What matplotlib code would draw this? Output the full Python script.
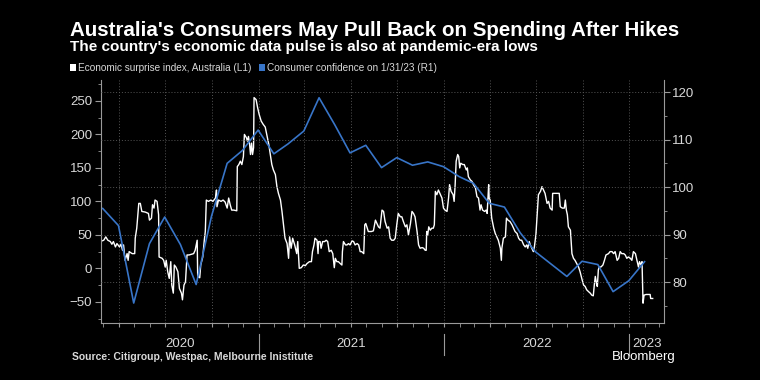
import matplotlib
matplotlib.use("Agg")
import matplotlib.pyplot as plt
import matplotlib.dates as mdates
import matplotlib.transforms as mtransforms
from matplotlib.patches import Patch
from matplotlib.ticker import MultipleLocator
import pandas as pd

# Citi economic surprise index, Australia (days since 2020-01-01, value)
START = pd.Timestamp("2020-01-01")
esi_day = [
    54, 61, 65, 69, 74, 77, 80, 84, 87, 92, 95, 98, 100, 103, 107, 109, 111, 117, 122, 123,
    126, 130, 133, 136, 143, 149, 151, 155, 157, 160, 162, 166, 169, 170, 176, 179, 182, 184,
    187, 190, 193, 195, 198, 200, 203, 207, 210, 214, 216, 219, 222, 225, 229,
    238, 241, 245, 246, 250, 252, 256, 259, 261, 263, 267, 272, 276, 281, 283, 284, 287, 292,
    296, 300, 304, 307, 310, 313, 317, 323, 324, 327, 330, 333, 336, 338, 342, 344, 346, 348,
    350, 352, 354, 356, 357, 361, 364, 367, 371, 375, 379, 382, 386, 389, 392, 395, 399, 402,
    405, 409, 412, 415, 418, 422,
    425, 427, 430, 433, 437, 440, 441, 443, 446, 450, 454, 458, 461, 466, 470, 472, 475, 477,
    481, 483, 484, 487, 489, 492, 496, 499, 502, 505, 509, 512, 513, 515, 517, 520, 523, 527,
    530, 531, 533, 537, 540, 543, 546, 550, 553, 556, 560, 563, 566, 569, 573, 575, 577, 582,
    588, 592, 596, 599, 602, 605, 609,
    612, 615, 619, 622, 625, 628, 632, 635, 638, 641, 645, 648, 651, 655, 658, 661, 665, 668,
    671, 674, 678, 681, 684, 688, 691, 694, 696, 697, 699, 701, 704, 707, 710, 712, 714, 717,
    720, 724, 727, 730, 733, 737, 740, 742, 745, 749, 751, 753, 755, 758, 760, 762, 764, 768,
    771, 775, 777, 779, 783, 786, 789, 793, 796, 799,
    802, 804, 807, 811, 814, 816, 819, 820, 822, 825, 829, 832, 835, 838, 842, 844, 845, 848,
    852, 854, 857, 861, 865, 868, 871, 875, 878, 881, 884, 888, 891, 894, 896, 899, 901, 904,
    907, 909, 912, 914, 917, 921, 924, 927, 930, 934, 937, 940, 944, 945, 950, 955, 958, 960,
    964, 968, 970, 972, 974, 976, 980, 983, 986, 989,
    996, 999, 1003, 1006, 1009, 1012, 1016, 1019, 1022, 1025, 1027, 1029, 1032, 1033, 1035,
    1037, 1040, 1044, 1047, 1050, 1055, 1058, 1062, 1065, 1068, 1072, 1075, 1078, 1081, 1085,
    1088, 1091, 1094, 1098, 1101, 1104, 1108, 1111, 1114, 1116, 1119, 1121, 1123, 1125, 1129,
    1137, 1138, 1142,
]
esi_val = [
    40, 42, 47, 42, 40, 36, 40, 32, 37, 32, 36, 27, 35, 12, 22, 12, 25, 22, 22, 45,
    60, 97, 97, 85, 84, 82, 72, 75, 95, 90, 102, 100, 80, 17, 15, 12, 2, 12,
    -5, -15, 10, -25, -37, 5, 2, -5, -30, -37, -47, -25, -20, 20, 20,
    22, 27, 42, -12, -14, 5, 17, 42, 55, 102, 100, 102, 100, 105, 117, 92, 102, 100,
    102, 99, 90, 105, 95, 87, 87, 86, 152, 155, 160, 155, 167, 200, 195, 190, 197, 187,
    170, 187, 170, 180, 255, 252, 240, 230, 220, 215, 211, 200, 185, 170, 155, 147, 140, 122,
    112, 102, 85, 65, 45, 37,
    15, 47, 30, 45, 35, 25, 22, 40, 0, 1, 5, 4, 7, 10, 10, 25, 35, 45,
    42, 22, 40, 40, 30, 40, 40, 42, 40, 25, 27, 22, 15, 1, 15, 10, 10, 7,
    5, 25, 40, 35, 35, 37, 35, 41, 40, 35, 37, 35, 25, 25, 22, 65, 67, 55,
    55, 56, 72, 67, 62, 60, 87,
    85, 70, 60, 62, 45, 42, 42, 45, 65, 82, 77, 77, 70, 62, 65, 50, 67, 85,
    82, 77, 55, 35, 30, 31, 30, 27, 27, 55, 50, 62, 57, 60, 60, 65, 115, 110,
    117, 110, 105, 90, 87, 85, 105, 125, 115, 110, 100, 125, 160, 170, 167, 150, 157, 155,
    155, 147, 150, 137, 132, 130, 125, 120, 107, 105,
    87, 95, 87, 85, 87, 82, 125, 105, 102, 75, 60, 52, 47, 42, 30, 12, 30, 45,
    47, 75, 72, 70, 65, 60, 55, 52, 45, 42, 42, 35, 32, 35, 30, 40, 35, 30,
    25, 32, 50, 75, 110, 115, 122, 117, 112, 97, 100, 90, 87, 112, 112, 112, 112, 92,
    90, 90, 102, 87, 80, 62, 57, 22, 15, 12,
    2, -5, -17, -25, -27, -32, -35, -37, -40, -41, -25, -12, -25, -27, -2,
    2, 2, 5, 12, 20, 22, 25, 25, 22, 25, 12, 15, 25, 22, 22,
    20, 15, 17, 15, 12, 25, 22, 12, 2, 10, 5, 10, -52, -40, -39,
    -39, -45, -45,
]

# Westpac-Melbourne Institute consumer sentiment, plotted at month end
cc_month = pd.date_range("2020-02-29", "2023-01-31", freq="ME")
cc_val = [
    95.5, 91.9, 75.6, 88.1, 93.7, 87.9, 79.5, 93.8, 105.0, 107.7, 112.0,
    107.0, 109.1, 111.8, 118.8, 113.1, 107.2, 108.8, 104.1, 106.2, 104.6, 105.3, 104.3,
    102.2, 100.8, 96.6, 95.8, 90.4, 86.4, 83.8, 81.2, 84.4, 83.7, 78.0, 80.3,
    84.3,
]

years = [2020, 2021, 2022, 2023]
x_start = pd.Timestamp("2020-02-25")
x_end = pd.Timestamp("2023-03-10")

title = "Australia's Consumers May Pull Back on Spending After Hikes"
subtitle = "The country's economic data pulse is also at pandemic-era lows"
label_esi = "Economic surprise index, Australia (L1)"
label_cc = "Consumer confidence on 1/31/23 (R1)"
source = "Source: Citigroup, Westpac, Melbourne Inistitute"

BLUE = "#3875c8"
TICK = "#d9d9d9"
AXIS = "#9a9a9a"
GRID = "#555555"

plt.rcParams["font.family"] = ["Liberation Sans", "DejaVu Sans"]

esi_dates = START + pd.to_timedelta(esi_day, unit="D")

fig = plt.figure(figsize=(7.6, 3.8), dpi=100, facecolor="black")
ax = fig.add_axes([0.1325, 0.15, 0.741, 0.639])
ax.set_facecolor("black")
ax2 = ax.twinx()

ax.plot(esi_dates, esi_val, color="white", lw=1.0)
ax2.plot(cc_month, cc_val, color=BLUE, lw=1.2)

ax.set_xlim(x_start, x_end)
ax.set_ylim(-81.6, 281)
ax2.set_ylim(71.4, 122.5)

ax.yaxis.set_major_locator(MultipleLocator(50))
ax.yaxis.set_minor_locator(MultipleLocator(25))
ax2.yaxis.set_major_locator(MultipleLocator(10))
ax2.yaxis.set_minor_locator(MultipleLocator(5))

# quarters carry the vertical grid, months get small ticks
ax.xaxis.set_major_locator(mdates.MonthLocator(bymonth=[1, 4, 7, 10]))
ax.xaxis.set_minor_locator(mdates.MonthLocator())
ax.xaxis.set_major_formatter(plt.NullFormatter())

ax.grid(axis="x", which="major", color=GRID, ls=(0, (1, 2)), lw=0.7)
ax2.grid(axis="y", which="major", color=GRID, ls=(0, (1, 2)), lw=0.7)
ax.set_axisbelow(True)

for a in (ax, ax2):
    for side in ("top", "left", "right", "bottom"):
        a.spines[side].set_visible(False)
ax.spines["left"].set_visible(True)
ax.spines["left"].set_color(AXIS)
ax2.spines["right"].set_visible(True)
ax2.spines["right"].set_color(AXIS)
ax.spines["bottom"].set_visible(True)
ax.spines["bottom"].set_color(AXIS)

ax.tick_params(axis="y", which="major", length=4, color=AXIS, labelcolor=TICK, labelsize=9.5, pad=2)
ax.tick_params(axis="y", which="minor", length=2.5, color=AXIS)
ax2.tick_params(axis="y", which="major", length=4, color=AXIS, labelcolor=TICK, labelsize=9.5, pad=2)
ax2.tick_params(axis="y", which="minor", length=2.5, color=AXIS)
ax.tick_params(axis="x", which="both", length=3, color=AXIS)

# year separators and labels centred on the visible part of each year
trans = mtransforms.blended_transform_factory(ax.transData, ax.transAxes)
for yr in years:
    lo = max(pd.Timestamp(f"{yr}-01-01"), x_start)
    hi = min(pd.Timestamp(f"{yr + 1}-01-01"), x_end)
    if lo > x_start:
        ax.plot([lo, lo], [-0.045, -0.13], transform=trans, color=AXIS, lw=0.8, clip_on=False)
    ax.text(lo + (hi - lo) / 2, -0.085, str(yr), transform=trans, ha="center", va="center",
            color=TICK, fontsize=9.5)

fig.text(0.092, 0.92, title, color="white", fontsize=14.8, fontweight="bold", va="center")
fig.text(0.092, 0.875, subtitle, color="white", fontsize=11, fontweight="bold", va="center")

fig.legend(handles=[Patch(fc="white"), Patch(fc=BLUE)], labels=[label_esi, label_cc],
           loc="center left", bbox_to_anchor=(0.092, 0.821), ncol=2, frameon=False,
           fontsize=7.2, labelcolor=TICK, handlelength=0.6, handleheight=0.6,
           handletextpad=0.2, columnspacing=0.8, borderaxespad=0, borderpad=0)

fig.text(0.095, 0.06, source, color=TICK, fontsize=7.5, fontweight="bold", va="center")
fig.text(0.805, 0.06, "Bloomberg", color="white", fontsize=9.5, va="center")

fig.savefig("out.png", dpi=100, facecolor="black")
